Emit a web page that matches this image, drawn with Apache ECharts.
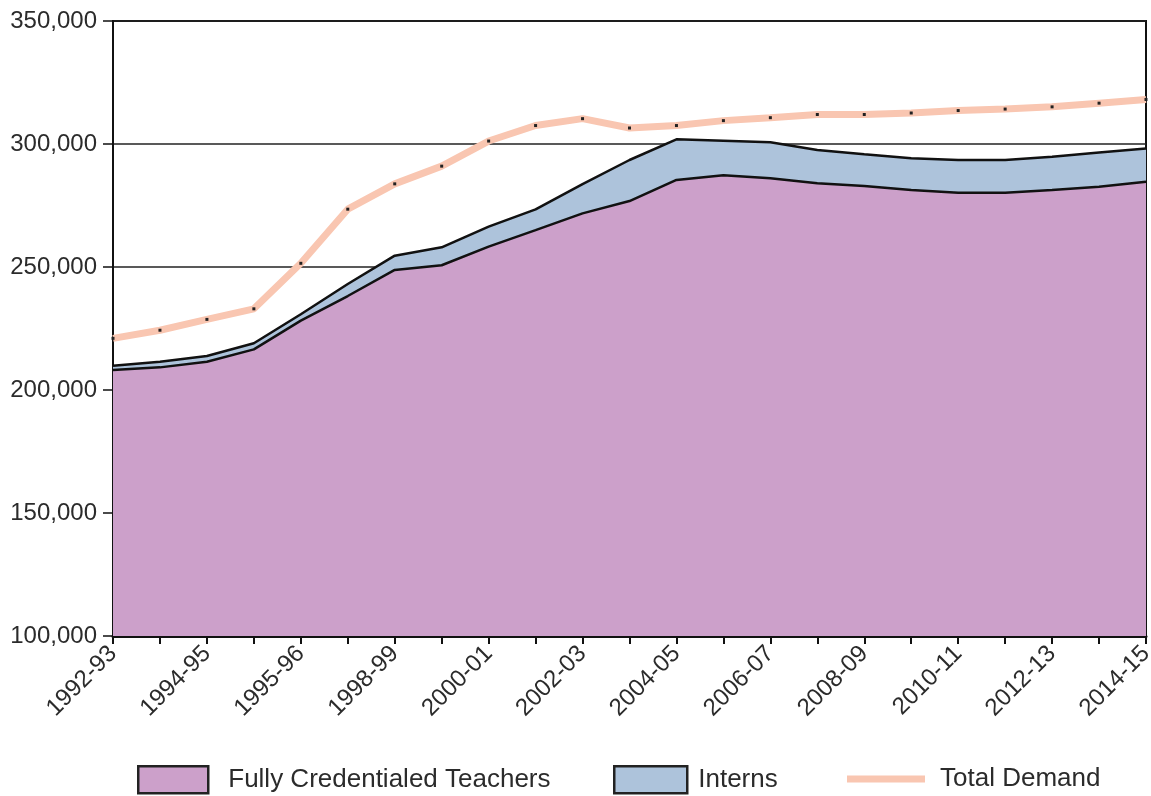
<!DOCTYPE html>
<html>
<head>
<meta charset="utf-8">
<style>
  html, body { margin: 0; padding: 0; background: #ffffff; }
  #chart { width: 1151px; height: 796px; }
</style>
<script src="https://cdn.jsdelivr.net/npm/echarts@6/dist/echarts.min.js"></script>
</head>
<body>
<div id="chart"></div>
<script>
const categories = ['1992-93','1993-94','1994-95','1995-96','1996-97','1997-98','1998-99','1999-00','2000-01','2001-02','2002-03','2003-04','2004-05','2005-06','2006-07','2007-08','2008-09','2009-10','2010-11','2011-12','2012-13','2013-14','2014-15'];
const tickLabels = ['1992-93','1994-95','1995-96','1998-99','2000-01','2002-03','2004-05','2006-07','2008-09','2010-11','2012-13','2014-15'];
const yTicks = [100000, 150000, 200000, 250000, 300000, 350000];

const fullyCredentialed = [208100,209200,211500,216500,228200,238200,248800,250700,258300,265000,271800,276800,285400,287300,286100,284000,282900,281300,280200,280200,281300,282600,284700];
const interns = [1800,2300,2300,2500,2600,4900,5800,7300,8100,8400,11900,16700,16500,14000,14600,13600,12900,12900,13300,13300,13500,13900,13500];
const totalDemand = [221000,224300,228700,233000,251500,273500,283800,291000,301200,307500,310300,306500,307500,309500,310700,312000,312000,312600,313600,314200,315100,316600,318100];

const FONT = "'Liberation Sans', Arial, Helvetica, sans-serif";
const PURPLE = '#cca0ca';
const BLUE = '#adc3db';
const PEACH = '#f9c6b1';
const TEXT = '#2b2b2b';

const chart = echarts.init(document.getElementById('chart'), null, { renderer: 'canvas' });

const legendBase = {
  orient: 'horizontal',
  icon: 'rect',
  itemHeight: 27,
  selectedMode: false,
  padding: 0,
  textStyle: { fontFamily: FONT, fontSize: 26, color: TEXT, padding: [0, 0, 0, 15] },
  itemStyle: { borderColor: '#222', borderWidth: 2.5 }
};

chart.setOption({
  animation: false,
  backgroundColor: '#ffffff',
  textStyle: { fontFamily: FONT },
  grid: {
    left: 113, right: 5, top: 21, bottom: 160,
    outerBoundsMode: 'none',
    containLabel: false,
    show: true, borderColor: '#111', borderWidth: 2, backgroundColor: 'transparent'
  },
  legend: [
    Object.assign({}, legendBase, { data: ['Fully Credentialed Teachers'], left: 137, top: 765, itemWidth: 70 }),
    Object.assign({}, legendBase, {
      data: ['Interns'], left: 613, top: 765, itemWidth: 73,
      textStyle: { fontFamily: FONT, fontSize: 26, color: TEXT, padding: [0, 0, 0, 6] }
    }),
    Object.assign({}, legendBase, {
      data: ['Total Demand'], left: 847, top: 766, itemWidth: 78, itemHeight: 7,
      itemStyle: { color: PEACH, borderWidth: 0 },
      textStyle: { fontFamily: FONT, fontSize: 26, color: TEXT, padding: [0, 0, 0, 10] }
    })
  ],
  xAxis: {
    type: 'category',
    data: categories,
    boundaryGap: false,
    axisLine: { show: true, lineStyle: { color: '#111', width: 3 } },
    axisTick: { show: true, interval: 0, length: 8, lineStyle: { color: '#111', width: 2 } },
    axisLabel: {
      interval: 1,
      rotate: 45,
      fontSize: 24,
      color: TEXT,
      fontFamily: FONT,
      margin: 14,
      formatter: function (value, index) { return tickLabels[Math.round(index / 2)] || ''; }
    },
    splitLine: { show: false }
  },
  yAxis: {
    type: 'value',
    min: yTicks[0],
    max: yTicks[yTicks.length - 1],
    interval: 50000,
    axisLine: { show: true, lineStyle: { color: '#111', width: 2 } },
    axisTick: { show: true, length: 10, lineStyle: { color: '#111', width: 1.5 } },
    axisLabel: {
      fontSize: 24, color: TEXT, fontFamily: FONT, margin: 16,
      formatter: function (v) { return v.toLocaleString('en-US'); }
    },
    splitLine: { show: true, lineStyle: { color: '#222', width: 1.5 } }
  },
  series: [
    {
      name: 'Fully Credentialed Teachers',
      type: 'line',
      stack: 'supply',
      data: fullyCredentialed,
      color: PURPLE,
      symbol: 'none',
      showSymbol: false,
      lineStyle: { color: '#111', width: 2.5 },
      areaStyle: { color: PURPLE, opacity: 1 },
      z: 2
    },
    {
      name: 'Interns',
      type: 'line',
      stack: 'supply',
      data: interns,
      color: BLUE,
      symbol: 'none',
      showSymbol: false,
      lineStyle: { color: '#111', width: 2.5 },
      areaStyle: { color: BLUE, opacity: 1 },
      z: 2
    },
    {
      name: 'Total Demand',
      type: 'line',
      data: totalDemand,
      color: PEACH,
      symbol: 'rect',
      symbolSize: 3,
      showSymbol: true,
      showAllSymbol: true,
      itemStyle: { color: '#222' },
      lineStyle: { color: PEACH, width: 7 },
      z: 3
    }
  ]
});
</script>
</body>
</html>
